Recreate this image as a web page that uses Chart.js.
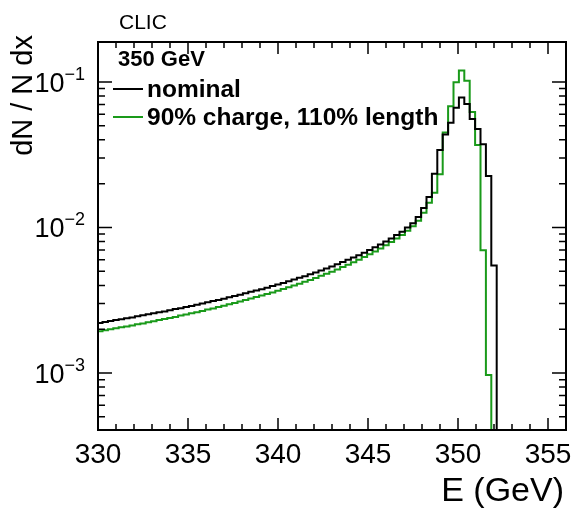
<!DOCTYPE html>
<html>
<head>
<meta charset="utf-8">
<script src="https://cdn.jsdelivr.net/npm/chart.js@4.4.0/dist/chart.umd.min.js"></script>
<style>
  html, body { margin: 0; padding: 0; background: #fff; }
</style>
</head>
<body>
<canvas id="graph" width="572" height="509"></canvas>
<script>
// histogram binning (GeV)
const binStart = 329.95;
const binWidth = 0.3;

// dN / N dx per bin
const nominal = [
  2.21e-3, 2.24e-3, 2.28e-3, 2.31e-3, 2.34e-3, 2.38e-3, 2.41e-3, 2.45e-3, 2.49e-3, 2.53e-3,
  2.57e-3, 2.61e-3, 2.65e-3, 2.70e-3, 2.75e-3, 2.79e-3, 2.84e-3, 2.89e-3, 2.95e-3, 3.00e-3,
  3.06e-3, 3.12e-3, 3.18e-3, 3.24e-3, 3.31e-3, 3.38e-3, 3.45e-3, 3.53e-3, 3.61e-3, 3.69e-3,
  3.77e-3, 3.86e-3, 3.96e-3, 4.06e-3, 4.16e-3, 4.27e-3, 4.39e-3, 4.51e-3, 4.63e-3, 4.77e-3,
  4.91e-3, 5.06e-3, 5.22e-3, 5.40e-3, 5.58e-3, 5.78e-3, 5.99e-3, 6.21e-3, 6.45e-3, 6.71e-3,
  7.00e-3, 7.31e-3, 7.64e-3, 8.01e-3, 8.41e-3, 8.86e-3, 9.35e-3, 1.00e-2, 1.07e-2, 1.18e-2,
  1.36e-2, 1.62e-2, 2.34e-2, 3.40e-2, 4.35e-2, 5.25e-2, 6.65e-2, 7.80e-2, 7.05e-2, 5.56e-2,
  4.74e-2, 3.73e-2, 2.26e-2, 5.47e-3
];
const reduced = [
  1.94e-3, 1.97e-3, 2.00e-3, 2.03e-3, 2.06e-3, 2.09e-3, 2.12e-3, 2.16e-3, 2.19e-3, 2.23e-3,
  2.27e-3, 2.31e-3, 2.35e-3, 2.39e-3, 2.43e-3, 2.48e-3, 2.52e-3, 2.57e-3, 2.62e-3, 2.67e-3,
  2.73e-3, 2.78e-3, 2.84e-3, 2.90e-3, 2.97e-3, 3.03e-3, 3.10e-3, 3.17e-3, 3.25e-3, 3.33e-3,
  3.41e-3, 3.49e-3, 3.58e-3, 3.68e-3, 3.78e-3, 3.88e-3, 3.99e-3, 4.11e-3, 4.23e-3, 4.36e-3,
  4.50e-3, 4.65e-3, 4.81e-3, 4.97e-3, 5.15e-3, 5.34e-3, 5.55e-3, 5.77e-3, 6.01e-3, 6.26e-3,
  6.54e-3, 6.85e-3, 7.18e-3, 7.54e-3, 7.95e-3, 8.39e-3, 8.89e-3, 9.50e-3, 1.02e-2, 1.11e-2,
  1.26e-2, 1.48e-2, 1.73e-2, 2.32e-2, 4.50e-2, 6.80e-2, 9.95e-2, 1.197e-1, 1.02e-1, 6.20e-2,
  3.68e-2, 6.97e-3, 9.69e-4
];

const seriesNames = ['nominal', '90% charge, 110% length'];
const seriesColors = ['#000000', '#1a9a1a'];
const energyLabel = '350 GeV';
const xTicks = [330, 335, 340, 345, 350, 355];
const yTicks = [1e-3, 1e-2, 1e-1];
const yTickExp = ['\u22123', '\u22122', '\u22121'];

const FONT = '"Liberation Sans", Arial, Helvetica, sans-serif';

// left bin edges -> step points, plus a closing drop at the last edge
function histPoints(vals) {
  const pts = vals.map((v, i) => ({ x: binStart + i * binWidth, y: v }));
  pts.push({ x: binStart + vals.length * binWidth, y: 1e-7 });
  return pts;
}

const rootStyle = {
  id: 'rootStyle',
  afterDraw(chart) {
    const { ctx, chartArea: a, scales: { x, y } } = chart;
    ctx.save();
    ctx.strokeStyle = '#000';
    ctx.fillStyle = '#000';

    // ticks, all pointing inwards
    ctx.lineWidth = 1.5;
    ctx.beginPath();
    for (let v = Math.ceil(x.min); v <= x.max; v++) {
      const px = x.getPixelForValue(v);
      const len = v % 5 === 0 ? 12 : 6;
      ctx.moveTo(px, a.bottom); ctx.lineTo(px, a.bottom - len);
      ctx.moveTo(px, a.top); ctx.lineTo(px, a.top + len);
    }
    for (let e = -4; e <= 0; e++) {
      for (let m = 1; m <= 9; m++) {
        const v = m * Math.pow(10, e);
        if (v < y.min || v > y.max) continue;
        const py = y.getPixelForValue(v);
        const len = m === 1 ? 14 : 7;
        ctx.moveTo(a.left, py); ctx.lineTo(a.left + len, py);
        ctx.moveTo(a.right, py); ctx.lineTo(a.right - len, py);
      }
    }
    ctx.stroke();

    // frame
    ctx.lineWidth = 2;
    ctx.strokeRect(a.left, a.top, a.right - a.left, a.bottom - a.top);

    // x tick labels
    ctx.font = '28px ' + FONT;
    ctx.textAlign = 'center';
    ctx.textBaseline = 'alphabetic';
    xTicks.forEach(t => ctx.fillText(String(t), x.getPixelForValue(t), a.bottom + 33));

    // y tick labels 10^n
    yTicks.forEach((t, i) => {
      const py = y.getPixelForValue(t);
      ctx.font = '18px ' + FONT;
      const ew = ctx.measureText(yTickExp[i]).width;
      const right = a.left - 13;
      ctx.textAlign = 'left';
      ctx.fillText(yTickExp[i], right - ew, py - 2);
      ctx.font = '27px ' + FONT;
      ctx.textAlign = 'right';
      ctx.fillText('10', right - ew, py + 10);
    });

    // axis titles
    ctx.font = '34px ' + FONT;
    ctx.textAlign = 'right';
    ctx.fillText('E (GeV)', a.right - 2, 501);
    ctx.save();
    ctx.translate(32, 35);
    ctx.rotate(-Math.PI / 2);
    ctx.font = '29px ' + FONT;
    ctx.textAlign = 'right';
    ctx.fillText('dN / N dx', 0, 0);
    ctx.restore();

    // label above frame
    ctx.font = '21px ' + FONT;
    ctx.textAlign = 'left';
    ctx.fillText('CLIC', 119, 29);

    // legend
    ctx.font = 'bold 22px ' + FONT;
    ctx.fillText(energyLabel, 118, 66);
    const rows = [89, 117];
    seriesNames.forEach((name, i) => {
      ctx.strokeStyle = seriesColors[i];
      ctx.lineWidth = 2;
      ctx.beginPath();
      ctx.moveTo(113, rows[i]); ctx.lineTo(143, rows[i]);
      ctx.stroke();
      ctx.fillStyle = '#000';
      ctx.font = 'bold 24.5px ' + FONT;
      ctx.fillText(name, 147, rows[i] + 8);
    });
    ctx.restore();
  }
};

new Chart(document.getElementById('graph'), {
  type: 'line',
  data: {
    datasets: [
      { label: seriesNames[0], data: histPoints(nominal), borderColor: seriesColors[0] },
      { label: seriesNames[1], data: histPoints(reduced), borderColor: seriesColors[1] }
    ].map(d => Object.assign(d, { stepped: 'before', borderWidth: 2, pointRadius: 0, fill: false }))
  },
  options: {
    responsive: false,
    animation: false,
    layout: { padding: { left: 98, right: 6, top: 42, bottom: 79 } },
    plugins: { legend: { display: false }, tooltip: { enabled: false } },
    scales: {
      x: { type: 'linear', min: 330, max: 356, display: false },
      y: { type: 'logarithmic', min: 4.06e-4, max: 0.188, display: false }
    }
  },
  plugins: [rootStyle]
});
</script>
</body>
</html>
